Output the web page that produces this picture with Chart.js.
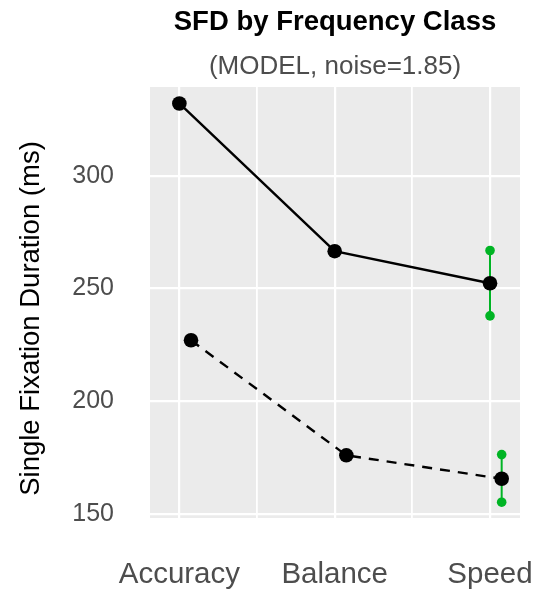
<!DOCTYPE html>
<html>
<head>
<meta charset="utf-8">
<script src="https://cdn.jsdelivr.net/npm/chart.js@4.4.0/dist/chart.umd.min.js"></script>
<style>
html,body{margin:0;padding:0;background:#ffffff;}
#wrap{width:535px;height:589px;}
</style>
</head>
<body>
<div id="wrap"><canvas id="c" width="535" height="589"></canvas></div>
<script>
// ---- data ----
const categories = ['Accuracy', 'Balance', 'Speed'];
const solidMeans = [332, 266.5, 252.3];
const dashedMeans = [227, 176, 165.6];
const solidErrLow = [null, null, 237.8];
const solidErrHigh = [null, null, 266.8];
const dashedErrLow = [null, null, 155.2];
const dashedErrHigh = [null, null, 176.3];
const yTickValues = [150, 200, 250, 300];
const xGridValues = [1, 1.5, 2, 2.5, 3];
const titleText = 'SFD by Frequency Class';
const subtitleText = '(MODEL, noise=1.85)';
const yAxisTitle = 'Single Fixation Duration (ms)';

// ---- styling / layout ----
const DODGE = 0.075;
const FONT = "'Liberation Sans', Arial, Helvetica, sans-serif";
const GREEN = '#00B424';

function toPoints(values, offset) {
  return values.map((v, i) => ({ x: i + 1 + offset, y: v }));
}
function errorSets(low, high, offset) {
  const sets = [];
  low.forEach((lo, i) => {
    if (lo === null || high[i] === null) return;
    sets.push({
      data: [{ x: i + 1 + offset, y: lo }, { x: i + 1 + offset, y: high[i] }],
      showLine: true,
      borderColor: GREEN,
      backgroundColor: GREEN,
      borderWidth: 2,
      pointRadius: 4.8,
      pointBorderWidth: 0,
      pointHoverRadius: 4.8
    });
  });
  return sets;
}

const panelBg = {
  id: 'panelBg',
  beforeDraw(chart) {
    const a = chart.chartArea;
    const ctx = chart.ctx;
    ctx.save();
    ctx.fillStyle = '#EBEBEB';
    ctx.fillRect(a.left, a.top, a.right - a.left, a.bottom - a.top);
    ctx.restore();
  }
};

// y-axis title drawn as canvas text (slightly below the panel centre, as in the reference)
const yTitlePlugin = {
  id: 'yTitle',
  afterDraw(chart) {
    const ctx = chart.ctx;
    const a = chart.chartArea;
    ctx.save();
    ctx.translate(31, (a.top + a.bottom) / 2 + 16);
    ctx.rotate(-Math.PI / 2);
    ctx.fillStyle = '#000000';
    ctx.font = '27.5px ' + FONT;
    ctx.textAlign = 'center';
    ctx.textBaseline = 'middle';
    ctx.fillText(yAxisTitle, 0, 0);
    ctx.restore();
  }
};

const datasets = [
  {
    data: toPoints(solidMeans, 0),
    showLine: true,
    borderColor: '#000000',
    backgroundColor: '#000000',
    borderWidth: 2.4,
    pointRadius: 7.3,
    pointHoverRadius: 7.3,
    pointBorderWidth: 0,
    tension: 0
  },
  {
    data: toPoints(dashedMeans, DODGE),
    showLine: true,
    borderColor: '#000000',
    backgroundColor: '#000000',
    borderWidth: 2.4,
    borderDash: [10, 8],
    pointRadius: 7.3,
    pointHoverRadius: 7.3,
    pointBorderWidth: 0,
    tension: 0
  },
  ...errorSets(solidErrLow, solidErrHigh, 0),
  ...errorSets(dashedErrLow, dashedErrHigh, DODGE)
];

new Chart(document.getElementById('c'), {
  type: 'scatter',
  data: { datasets },
  plugins: [panelBg, yTitlePlugin],
  options: {
    responsive: false,
    animation: false,
    events: [],
    layout: { padding: { left: 0, right: 15, top: 0, bottom: 0 } },
    plugins: {
      legend: { display: false },
      tooltip: { enabled: false },
      title: {
        display: true,
        text: titleText,
        fullSize: false,
        color: '#000000',
        font: { family: FONT, size: 27.5, weight: 'bold', lineHeight: 1.2 },
        padding: { top: 6, bottom: 7 }
      },
      subtitle: {
        display: true,
        text: subtitleText,
        fullSize: false,
        color: '#4D4D4D',
        font: { family: FONT, size: 26, weight: 'normal', lineHeight: 1.2 },
        padding: { top: 5, bottom: 4.8 }
      }
    },
    scales: {
      x: {
        type: 'linear',
        min: 0.811,
        max: 3.193,
        afterBuildTicks: (s) => { s.ticks = xGridValues.map(v => ({ value: v })); },
        afterFit: (s) => { s.height = 71; s.paddingLeft = 0; s.paddingRight = 0; },
        border: { display: false },
        grid: {
          color: '#FFFFFF',
          lineWidth: (ctx) => (ctx.tick && Number.isInteger(ctx.tick.value) ? 2.2 : 1.8),
          drawTicks: false
        },
        ticks: {
          autoSkip: false,
          maxRotation: 0,
          padding: 39,
          color: '#4D4D4D',
          font: { family: FONT, size: 29.5 },
          callback: (v) => (Number.isInteger(v) ? categories[v - 1] : '')
        }
      },
      y: {
        type: 'linear',
        min: 148.2,
        max: 339.3,
        afterBuildTicks: (s) => { s.ticks = yTickValues.map(v => ({ value: v })); },
        afterFit: (s) => { s.width = 150; s.paddingTop = 0; s.paddingBottom = 0; },
        border: { display: false },
        grid: { color: '#FFFFFF', lineWidth: 2.2, drawTicks: false },
        ticks: {
          padding: 36,
          color: '#4D4D4D',
          font: { family: FONT, size: 25 },
          callback: (v) => String(v)
        },
        title: { display: false }
      }
    }
  }
});
</script>
</body>
</html>
